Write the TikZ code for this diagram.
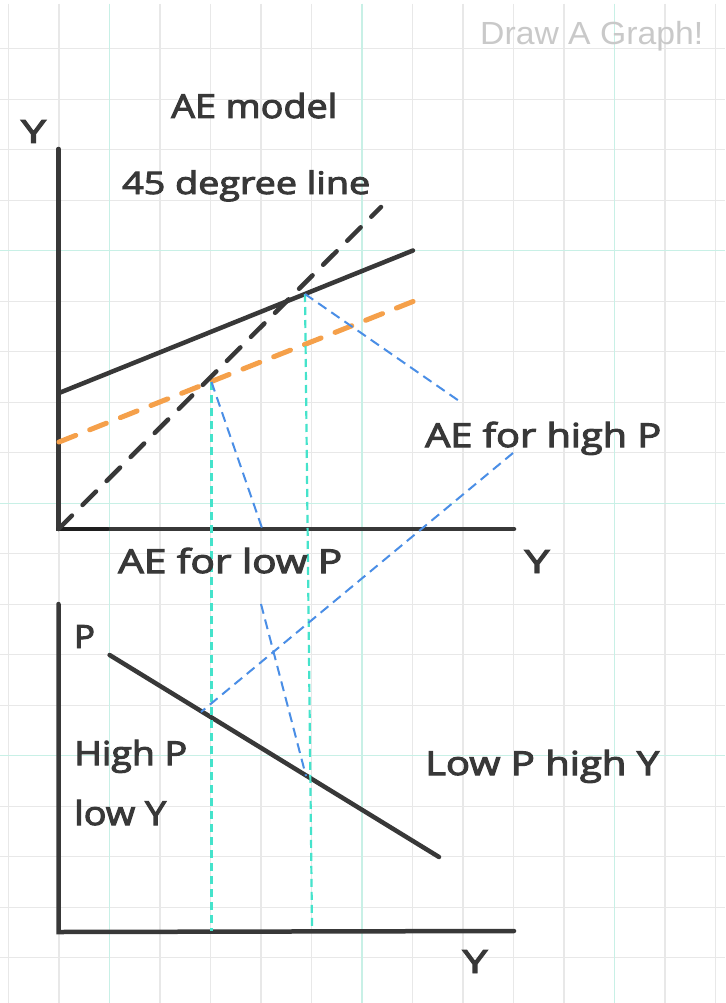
\documentclass[tikz,border=0pt]{standalone}
\usepackage{fontspec}
\usepackage{graphicx}
\newfontfamily\handfont[FakeBold=3]{Open Sans}
\newfontfamily\logofont{Liberation Sans}
\definecolor{gridgray}{HTML}{E8E8E8}
\definecolor{gridmint}{HTML}{C8F0E6}
\definecolor{ink}{HTML}{383838}
\definecolor{inkdark}{HTML}{1E1E1E}
\definecolor{aeorange}{HTML}{F5A04A}
\definecolor{tealc}{HTML}{45E3CB}
\definecolor{bluec}{HTML}{4A8EE6}
\definecolor{logogray}{HTML}{C9C9C9}
\tikzset{
  gridline/.style={gridgray, line width=1.3pt},
  gridteal/.style={gridmint, line width=1.3pt},
  axisline/.style={ink, line width=4.5pt, line cap=round},
  curveline/.style={ink, line width=4.5pt, line cap=round},
  blackdash/.style={ink, line width=4.5pt, line cap=round, dash pattern=on 19pt off 15pt},
  orangedash/.style={aeorange, line width=5pt, line cap=round, dash pattern=on 18pt off 15pt},
  tealdash/.style={tealc, line width=2.2pt, dash pattern=on 8pt off 5pt},
  bluedash/.style={bluec, line width=2pt, dash pattern=on 10pt off 6pt},
  lbl/.style={font=\handfont\fontsize{33}{36}\selectfont, text=ink, inner sep=0pt, anchor=base west},
  letter/.style={font=\handfont\fontsize{32}{36}\selectfont, text=ink, inner sep=0pt, anchor=base},
  logo/.style={font=\logofont\fontsize{32}{36}\selectfont, text=logogray, inner sep=0pt, anchor=base west},
}
\newcommand\fitto[2]{\resizebox{#1pt}{\height}{#2}}
\begin{document}
\begin{tikzpicture}[x=1pt,y=-1pt]
\fill[white] (0,0) rectangle (725,1003);
\useasboundingbox (0,0) rectangle (725,1003);
% grid
\foreach \k in {0,...,14} { \draw[gridline] ({8.6+50.5*\k},4) -- ({8.6+50.5*\k},1003); }
\foreach \k in {1,...,19} { \draw[gridline] (0,{-1.8+50.5*\k}) -- (725,{-1.8+50.5*\k}); }
\foreach \k in {2,7,12} { \draw[gridteal] ({8.6+50.5*\k},4) -- ({8.6+50.5*\k},1003); }
\foreach \k in {5,10,15} { \draw[gridteal] (0,{-1.8+50.5*\k}) -- (725,{-1.8+50.5*\k}); }

% coordinates, top graph
\coordinate (O1) at (58.5,529);
\coordinate (Ytop) at (58.5,149);
\coordinate (Xend1) at (514,529);
\coordinate (Xdark) at (107,529);
\coordinate (FortyEnd) at (381,207);
\coordinate (AEhiS) at (59,393);
\coordinate (AEhiE) at (413,250.5);
\coordinate (AEloS) at (59,442);
\coordinate (AEloE) at (413,301.5);
\coordinate (Elo) at (211.5,382);
\coordinate (Ehi) at (305,294);
% bottom graph
\coordinate (O2) at (58.5,932);
\coordinate (Ptop) at (58.5,604);
\coordinate (Xend2) at (514,931);
\coordinate (ADs) at (109.6,655);
\coordinate (ADe) at (439,857);
\coordinate (T1e) at (211.5,931);
\coordinate (T2e) at (312,927);
\coordinate (B1e) at (262,528);
\coordinate (B2e) at (462,403);
\coordinate (B3s) at (513,453);
\coordinate (B3e) at (201,712);
\coordinate (B4s) at (261,604);
\coordinate (B4e) at (306,776);

% thick lines
\draw[axisline] (Ytop) -- (O1) -- (Xend1);
\draw[inkdark, line width=4.5pt, line cap=round] (O1) -- (Xdark);
\draw[curveline] (AEhiS) -- (AEhiE);
\draw[orangedash] (AEloS) -- (AEloE);
\draw[blackdash] (O1) -- (FortyEnd);
\draw[axisline] (Ptop) -- (O2) -- (Xend2);
\draw[curveline] (ADs) -- (ADe);

% thin dashed lines
\draw[tealdash] (Elo) -- (T1e);
\draw[tealdash] (Ehi) -- (T2e);
\draw[bluedash] (Elo) -- (B1e);
\draw[bluedash] (Ehi) -- (B2e);
\draw[bluedash] (B3s) -- (B3e);
\draw[bluedash] (B4s) -- (B4e);

% labels
\node[logo] (logo) at (480,45) {\fitto{223}{Draw A Graph!}};
\node[lbl] (title) at (171,118) {\fitto{166}{AE model}};
\node[lbl, font=\handfont\fontsize{31}{34}\selectfont] (fortyfive) at (122,194) {\fitto{248}{45 degree line}};
\node[lbl] (aehigh) at (425,447) {\fitto{236}{AE for high P}};
\node[lbl] (aelow) at (118,573) {\fitto{224}{AE for low P}};
\node[lbl] (highp) at (74,765) {\fitto{113}{High P}};
\node[lbl] (lowy) at (74,825) {\fitto{92}{low Y}};
\node[lbl] (lowphigh) at (425,775) {\fitto{234}{Low P high Y}};
\node[letter] (yl1) at (33.5,143) {\fitto{25}{Y}};
\node[letter] (yr1) at (537,573) {\fitto{25}{Y}};
\node[letter] (pl) at (84.5,648) {\fitto{21}{P}};
\node[letter] (yb) at (475,973) {\fitto{25}{Y}};
\end{tikzpicture}
\end{document}
